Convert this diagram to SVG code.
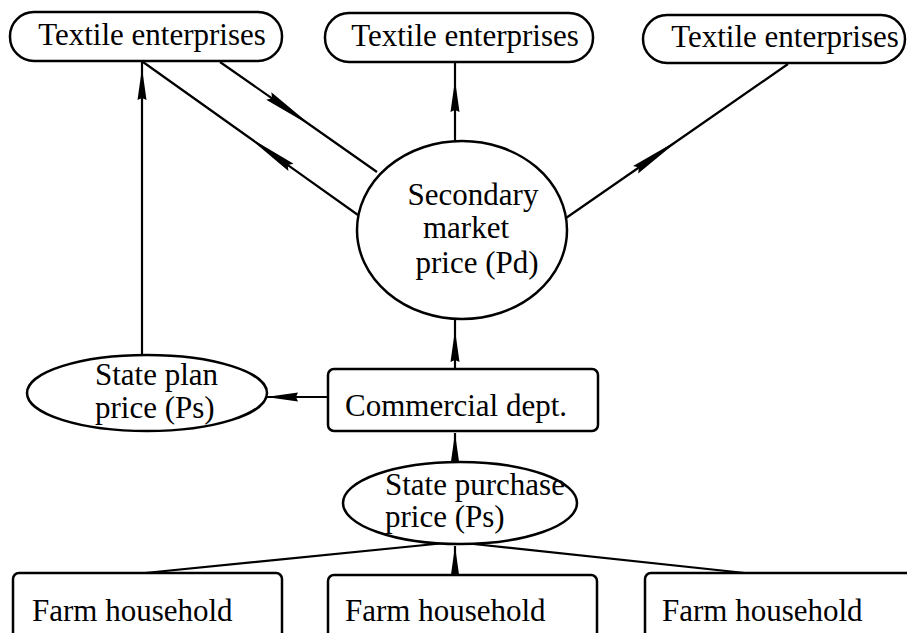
<svg xmlns="http://www.w3.org/2000/svg" width="907" height="633" viewBox="0 0 907 633">
<defs>
<style>
.box{fill:#fff;stroke:#000;stroke-width:2.5}
.ln{fill:none;stroke:#000;stroke-width:2.2}
.t{font-family:"Liberation Serif","DejaVu Serif",serif;font-size:31px;fill:#000}
.c{text-anchor:middle}
</style>
<marker id="long" markerUnits="userSpaceOnUse" markerWidth="60" markerHeight="12" viewBox="-56 -6 58 12" refX="0" refY="0" orient="auto">
<path d="M0,0 L-54,-4.5 L-50,0 L-54,4.5 Z" fill="#000"/>
</marker>
<marker id="short" markerUnits="userSpaceOnUse" markerWidth="40" markerHeight="12" viewBox="-36 -6 38 12" refX="0" refY="0" orient="auto">
<path d="M0,0 L-32,-4.5 L-30,0 L-32,4.5 Z" fill="#000"/>
</marker>
</defs>
<rect width="907" height="633" fill="#fff"/>

<g id="connectors">
<path class="ln" d="M142,355 L142,68 L142,61" marker-mid="url(#short)"/>
<path class="ln" d="M358,215 L247,136 L143,62" marker-mid="url(#long)"/>
<path class="ln" d="M220,62 L313,127 L377,172" marker-mid="url(#long)"/>
<path class="ln" d="M455,141 L455,80 L455,63" marker-mid="url(#short)"/>
<path class="ln" d="M566,218 L680,139 L788,64" marker-mid="url(#long)"/>
<path class="ln" d="M455,369 L455,330 L455,318" marker-mid="url(#short)"/>
<path class="ln" d="M328,397 L266,397" marker-end="url(#short)"/>
<path class="ln" d="M455,462 L455,433" marker-end="url(#short)"/>
<path class="ln" d="M455,575 L455,546" marker-end="url(#short)"/>
<path class="ln" d="M145,573 L455,542 L745,573"/>
</g>

<g id="textile1">
<rect class="box" x="10" y="12" width="272" height="49" rx="24"/>
<text class="t c" x="152" y="45">Textile enterprises</text>
</g>
<g id="textile2">
<rect class="box" x="325" y="13" width="268" height="49" rx="24"/>
<text class="t c" x="465" y="46">Textile enterprises</text>
</g>
<g id="textile3">
<rect class="box" x="643" y="15" width="262" height="48" rx="24"/>
<text class="t c" x="785" y="47">Textile enterprises</text>
</g>

<g id="secondary">
<ellipse class="box" cx="462" cy="230" rx="105" ry="89"/>
<text class="t c" x="473" y="205">Secondary</text>
<text class="t c" x="466" y="238">market</text>
<text class="t c" x="477" y="273">price (Pd)</text>
</g>

<g id="stateplan">
<ellipse class="box" cx="147" cy="393" rx="120" ry="38"/>
<text class="t" x="95" y="385">State plan</text>
<text class="t" x="95" y="418">price (Ps)</text>
</g>

<g id="commercial">
<rect class="box" x="328" y="369" width="270" height="62" rx="6"/>
<text class="t" x="345" y="416">Commercial dept.</text>
</g>

<g id="statepurchase">
<ellipse class="box" cx="460" cy="503" rx="117" ry="41"/>
<text class="t" x="385" y="495">State purchase</text>
<text class="t" x="385" y="527">price (Ps)</text>
</g>

<g id="farm1">
<rect class="box" x="13" y="573" width="269" height="75" rx="6"/>
<text class="t" x="32" y="621">Farm household</text>
</g>
<g id="farm2">
<rect class="box" x="328" y="575" width="269" height="75" rx="6"/>
<text class="t" x="345" y="621">Farm household</text>
</g>
<g id="farm3">
<rect class="box" x="645" y="573" width="275" height="75" rx="6"/>
<text class="t" x="662" y="621">Farm household</text>
</g>
</svg>
